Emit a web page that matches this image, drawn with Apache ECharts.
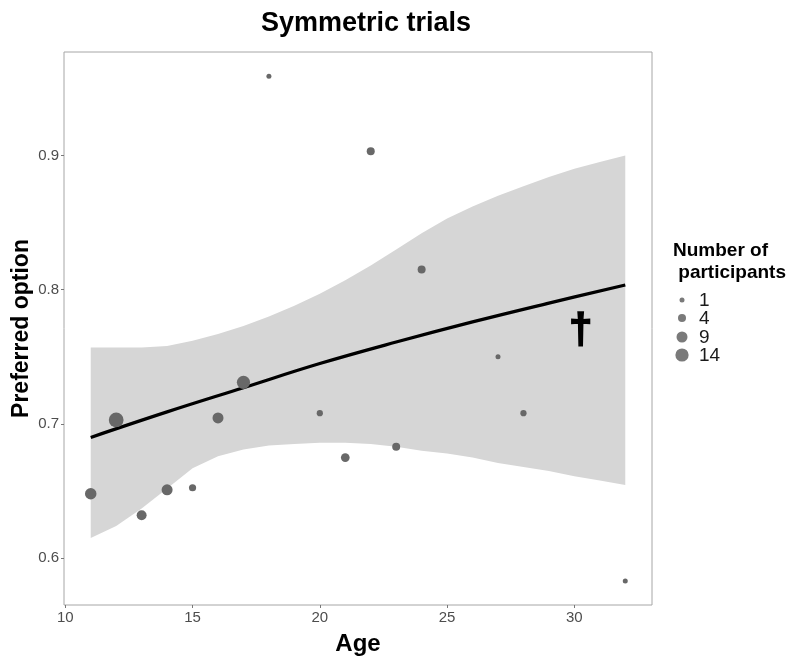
<!DOCTYPE html>
<html>
<head>
<meta charset="utf-8">
<script src="https://cdn.jsdelivr.net/npm/echarts@6/dist/echarts.min.js"></script>
<style>html,body{margin:0;padding:0;background:#fff}#c{width:800px;height:664px}</style>
</head>
<body>
<div id="c"></div>
<script>
// ---- data ----
const pointAges   = [11, 12, 13, 14, 15, 16, 17, 18, 20, 21, 22, 23, 24, 27, 28, 32];
const pointValues = [0.648, 0.703, 0.632, 0.651, 0.6525, 0.7045, 0.731, 0.959, 0.708, 0.675, 0.903, 0.683, 0.815, 0.750, 0.708, 0.583];
const pointCounts = [10, 18, 7, 9, 3, 9, 14, 1, 2, 5, 4, 4, 4, 1, 2, 1];

const fitAges   = [11, 14, 17, 20, 23, 26, 29, 32];
const fitValues = [0.690, 0.709, 0.727, 0.745, 0.761, 0.776, 0.790, 0.8035];

const bandAges  = [11, 12, 13, 14, 15, 16, 17, 18, 19, 20, 21, 22, 23, 24, 25, 26, 27, 28, 29, 30, 31, 32];
const bandLower = [0.615, 0.624, 0.637, 0.652, 0.667, 0.676, 0.681, 0.684, 0.685, 0.686, 0.686, 0.685, 0.683, 0.680, 0.678, 0.675, 0.671, 0.668, 0.665, 0.661, 0.658, 0.6545];
const bandUpper = [0.757, 0.757, 0.757, 0.758, 0.762, 0.767, 0.773, 0.780, 0.788, 0.797, 0.807, 0.818, 0.830, 0.842, 0.853, 0.862, 0.870, 0.877, 0.884, 0.890, 0.895, 0.900];

const xTicks = [10, 15, 20, 25, 30];
const yTicks = [0.6, 0.7, 0.8, 0.9];
const legendBreaks = [1, 4, 9, 14];
const dagger = [30.25, 0.769];

const FONT = '"Liberation Sans", Arial, sans-serif';
const sizeOf = n => 2 + 3 * Math.sqrt(n);

const chart = echarts.init(document.getElementById('c'), null, {renderer: 'canvas'});

const scatterData = pointAges.map((a, i) => [a, pointValues[i], pointCounts[i]]);
const fitData = fitAges.map((a, i) => [a, fitValues[i]]);

// legend graphics
const legendGraphics = [{
  type: 'text', left: 673, top: 240,
  style: {text: 'Number of\n participants', font: 'bold 19px ' + FONT, fill: '#000', lineHeight: 22}
}];
const legendY = [300, 318, 337, 355];
legendBreaks.forEach((b, i) => {
  const r = sizeOf(b) / 2;
  legendGraphics.push({type: 'circle', shape: {cx: 682, cy: legendY[i], r: r}, style: {fill: '#7a7a7a'}});
  legendGraphics.push({type: 'text', x: 699, y: legendY[i] + 1, style: {text: String(b), font: '19px ' + FONT, fill: '#1a1a1a', verticalAlign: 'middle'}});
});

chart.setOption({
  animation: false,
  backgroundColor: '#fff',
  title: {
    text: 'Symmetric trials', left: 361, top: 5, textAlign: 'center',
    textStyle: {fontFamily: FONT, fontSize: 27, fontWeight: 'bold', color: '#000'}
  },
  grid: {left: 64, right: 148, top: 52, bottom: 59, containLabel: false, outerBoundsMode: 'none',
         show: true, borderColor: '#a6a6a6', borderWidth: 1, backgroundColor: '#fff'},
  xAxis: {
    type: 'value', min: 9.95, max: 33.05,
    name: 'Age', nameLocation: 'middle', nameGap: 27,
    nameTextStyle: {fontFamily: FONT, fontSize: 24, fontWeight: 'bold', color: '#000'},
    axisLine: {show: false},
    axisTick: {show: true, length: 3, lineStyle: {color: '#777'}, customValues: xTicks},
    axisLabel: {fontFamily: FONT, fontSize: 15, color: '#4d4d4d', margin: 5, customValues: xTicks},
    splitLine: {show: false}
  },
  yAxis: {
    type: 'value', min: 0.5652, max: 0.977,
    name: 'Preferred option', nameLocation: 'middle', nameGap: 31, nameMoveOverlap: false,
    nameTextStyle: {fontFamily: FONT, fontSize: 23, fontWeight: 'bold', color: '#000'},
    axisLine: {show: false},
    axisTick: {show: true, length: 3, lineStyle: {color: '#777'}, customValues: yTicks},
    axisLabel: {fontFamily: FONT, fontSize: 15, color: '#4d4d4d', margin: 5, customValues: yTicks, formatter: v => v.toFixed(1)},
    splitLine: {show: false}
  },
  graphic: legendGraphics,
  series: [
    {
      type: 'custom', silent: true, z: 1,
      data: [0],
      renderItem: (params, api) => {
        const pts = [];
        bandAges.forEach((a, i) => pts.push(api.coord([a, bandUpper[i]])));
        for (let i = bandAges.length - 1; i >= 0; i--) pts.push(api.coord([bandAges[i], bandLower[i]]));
        return {type: 'polygon', shape: {points: pts}, style: {fill: '#d6d6d6', stroke: null}};
      }
    },
    {
      type: 'line', data: fitData, smooth: 0.4, showSymbol: false, silent: true, z: 3,
      lineStyle: {color: '#000', width: 3.2}
    },
    {
      type: 'scatter', data: scatterData, z: 4,
      symbolSize: d => sizeOf(d[2]),
      itemStyle: {color: '#686868', opacity: 1}
    }
  ]
});

// dagger annotation placed at its data coordinate
const dp = chart.convertToPixel({gridIndex: 0}, dagger);
chart.setOption({
  graphic: legendGraphics.concat([{
    type: 'text', x: dp[0], y: dp[1], z: 10,
    style: {text: '\u2020', font: 'bold 42px ' + FONT, fill: '#000', stroke: '#000', lineWidth: 1.5,
            align: 'center', verticalAlign: 'middle'}
  }])
});
</script>
</body>
</html>
